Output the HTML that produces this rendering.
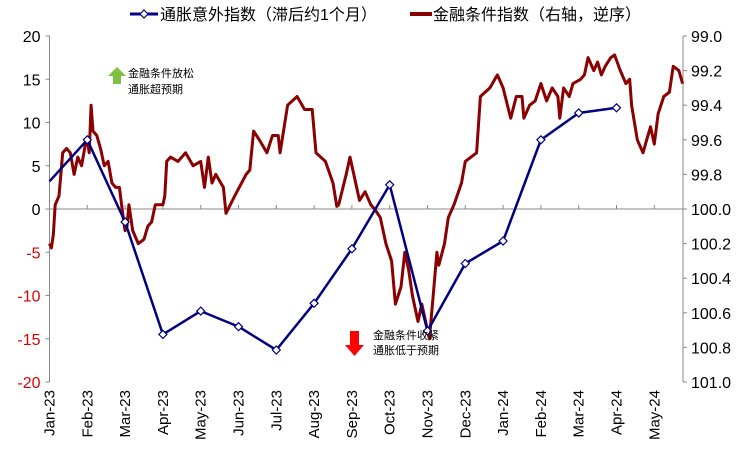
<!DOCTYPE html>
<html><head><meta charset="utf-8"><style>
body{margin:0;background:#fff}
svg{display:block;font-family:"Liberation Sans","Noto Sans CJK SC",sans-serif}
</style></head><body>
<svg id="chart" width="745" height="449" viewBox="0 0 745 449">
<g id="axes"></g>
<g id="series"></g>
<g>
 <line x1="130" y1="14" x2="158" y2="14" stroke="#000080" stroke-width="3"/>
 <path d="M144 10 L148 14 L144 18 L140 14 Z" fill="#fff" stroke="#000080" stroke-width="1.2"/>
 <text x="160" y="20" font-size="16">通胀意外指数（滞后约1个月）</text>
 <line x1="410" y1="14" x2="432" y2="14" stroke="#8B0000" stroke-width="4"/>
 <text x="433" y="20" font-size="16">金融条件指数（右轴，逆序）</text>
</g>
<g>
 <path d="M117 67 L126 76 L121 76 L121 84 L113 84 L113 76 L108 76 Z" fill="#7dc142"/>
 <text x="128" y="77" font-size="11">金融条件放松</text>
 <text x="128" y="93" font-size="11">通胀超预期</text>
</g>
<g>
 <path d="M350 331 L359 331 L359 345 L364 345 L354.5 356 L345 345 L350 345 Z" fill="#ff0000"/>
 <text x="373" y="339" font-size="11">金融条件收紧</text>
 <text x="373" y="354" font-size="11">通胀低于预期</text>
</g>
</svg>
<script>
const monthLabels=["Jan-23","Feb-23","Mar-23","Apr-23","May-23","Jun-23","Jul-23","Aug-23","Sep-23","Oct-23","Nov-23","Dec-23","Jan-24","Feb-24","Mar-24","Apr-24","May-24"];
const leftTicks=[20,15,10,5,0,-5,-10,-15,-20];
const rightTicks=["99.0","99.2","99.4","99.6","99.8","100.0","100.2","100.4","100.6","100.8","101.0"];
const inflMonths=[0,1,2,3,4,5,6,7,8,9,10,11,12,13,14,15];
const inflValues=[3.2,8.0,-1.5,-14.5,-11.8,-13.6,-16.3,-10.9,-4.6,2.8,-14.1,-6.3,-3.7,8.0,11.1,11.7];
const fciMonths=[0,0.05,0.1,0.15,0.25,0.35,0.45,0.55,0.65,0.75,0.85,0.95,1.0,1.05,1.1,1.15,1.25,1.35,1.45,1.55,1.65,1.75,1.85,1.95,2.0,2.05,2.1,2.2,2.35,2.5,2.6,2.7,2.8,2.9,3.0,3.05,3.1,3.2,3.4,3.6,3.8,4.0,4.1,4.2,4.3,4.4,4.6,4.67,4.9,5.2,5.3,5.4,5.55,5.75,5.9,6.05,6.1,6.3,6.55,6.75,6.95,7.05,7.3,7.5,7.6,7.65,7.85,7.95,8.1,8.2,8.35,8.5,8.6,8.75,8.9,9.05,9.15,9.3,9.4,9.5,9.6,9.75,9.85,10.05,10.15,10.25,10.3,10.45,10.55,10.7,10.9,11.0,11.3,11.4,11.65,11.85,12.0,12.2,12.35,12.5,12.55,12.7,12.85,13.0,13.15,13.3,13.45,13.5,13.6,13.75,13.85,14.05,14.15,14.25,14.4,14.5,14.6,14.7,14.85,14.95,15.1,15.25,15.35,15.4,15.55,15.7,15.8,15.9,16.0,16.1,16.25,16.4,16.5,16.65,16.75];
const fciValues=[-4,-4.5,-3,0.5,1.5,6.5,7,6.5,4,6,5,7.5,8,6.5,12,9,8.5,7,5,5.5,3,2.5,2.5,-1,-2.5,-2,0.5,-2.5,-4,-3.5,-2,-1.5,0.5,0.5,0.5,1.5,5.5,6,5.5,6.5,5,5.5,2.5,6,3,4,2.5,-0.5,1.5,4,4.5,9,8,6.5,8.5,8.5,6.5,12,13,11.5,11.5,6.5,5.5,3,0.3,0.5,4,6,3,1,2,0.5,0,-1,-4,-6,-11,-9,-5,-7,-10,-13,-11,-15,-10,-5,-6.5,-4,-1,0.5,3,5.5,6.5,13,14,15.5,14,10.5,13,13,10.5,12,12.5,14.5,12.5,14,13,10.5,14,13,14.5,15,15.5,17.5,16,17,15.5,16.5,17.5,17.8,16,14.5,15,12,8,6.5,8,9.5,7.5,11,13,13.5,16.5,16,14.5].map(v=>+(100-v*0.05).toFixed(3));

const NS="http://www.w3.org/2000/svg";
const X0=49.5,MW=37.8,XR=683,Y20=36,YM20=382;
const xs=m=>X0+MW*m;
const yL=v=>Y20+(20-v)*(YM20-Y20)/40;
const yR=v=>Y20+(v-99)*(YM20-Y20)/2;
function mk(tag,attrs,parent){const e=document.createElementNS(NS,tag);for(const k in attrs)e.setAttribute(k,attrs[k]);parent.appendChild(e);return e;}
const ax=document.getElementById('axes'),se=document.getElementById('series');
let e;
e=mk('line',{x1:X0,y1:Y20,x2:X0,y2:YM20,stroke:'#888'},ax);


e=mk('line',{x1:XR,y1:Y20,x2:XR,y2:YM20,stroke:'#888'},ax);


e=mk('line',{x1:X0,y1:yL(0),x2:XR,y2:yL(0),stroke:'#888'},ax);


leftTicks.forEach(v=>{
 mk('line',{x1:X0-4,y1:yL(v),x2:X0,y2:yL(v),stroke:'#888'},ax);
 e=mk('text',{x:X0-9,y:yL(v)+6,'text-anchor':'end','font-size':16,fill:v<0?'#e00000':'#000'},ax);
 e.textContent=v;
 
 
});
rightTicks.forEach(t=>{
 const y=yR(parseFloat(t));
 mk('line',{x1:XR,y1:y,x2:XR+4,y2:y,stroke:'#888'},ax);
 e=mk('text',{x:XR+8,y:y+6,'font-size':16,fill:'#000'},ax);
 e.textContent=t;
 
 
});
monthLabels.forEach((t,i)=>{
 const x=xs(i);
 mk('line',{x1:x,y1:yL(0)-4,x2:x,y2:yL(0),stroke:'#888'},ax);
 e=mk('text',{x:0,y:0,'text-anchor':'end','font-size':15,transform:`translate(${x+5},${YM20+8}) rotate(-90)`},ax);
 e.textContent=t;
 
 
});
e=mk('polyline',{points:fciMonths.map((m,i)=>xs(m).toFixed(1)+','+yR(fciValues[i]).toFixed(1)).join(' '),fill:'none',stroke:'#8B0000','stroke-width':3,'stroke-linejoin':'round'},se);


e=mk('polyline',{points:inflMonths.map((m,i)=>xs(m).toFixed(1)+','+yL(inflValues[i]).toFixed(1)).join(' '),fill:'none',stroke:'#000080','stroke-width':2.5,'stroke-linejoin':'round'},se);


inflMonths.forEach((m,i)=>{
 if(i===0)return;
 const x=xs(m),y=yL(inflValues[i]);
 e=mk('path',{d:`M${x} ${y-4} L${x+4} ${y} L${x} ${y+4} L${x-4} ${y} Z`,fill:'#fff',stroke:'#000080','stroke-width':1.2},se);
 
 
});
</script>
</body></html>
